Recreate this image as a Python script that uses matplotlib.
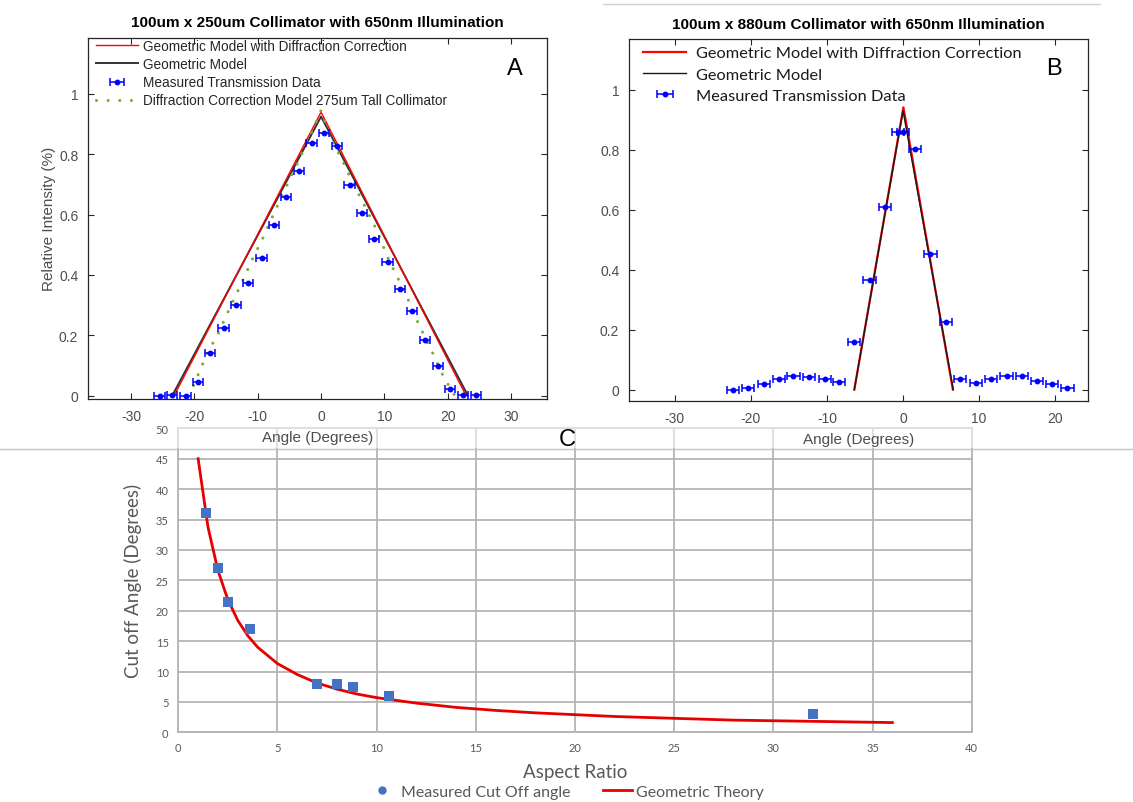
import matplotlib
matplotlib.use("Agg")
import matplotlib.pyplot as plt
from matplotlib.lines import Line2D
from matplotlib.patches import Rectangle

W, H = 1133, 803
plt.rcParams["axes.unicode_minus"] = False

# --- panel A: 100um x 250um collimator ---
a_meas_x = [-25.5, -23.5, -21.4, -19.4, -17.5, -15.4, -13.4, -11.5, -9.4, -7.4,
            -5.5, -3.5, -1.5, 0.5, 2.55, 4.5, 6.5, 8.4, 10.5, 12.4,
            14.4, 16.4, 18.5, 20.4, 22.4, 24.4]
a_meas_y = [0.0, 0.002, 0.0, 0.046, 0.141, 0.224, 0.299, 0.374, 0.457, 0.566,
            0.658, 0.744, 0.839, 0.870, 0.829, 0.699, 0.604, 0.518, 0.442, 0.352,
            0.279, 0.186, 0.099, 0.022, 0.002, 0.002]
a_meas_xerr = 0.8
a_diff_x = [-23.2, 0.0, 22.9]
a_diff_y = [0.0, 0.94, 0.0]
a_geom_x = [-23.5, 0.0, 23.2]
a_geom_y = [0.0, 0.925, 0.0]
a_tall_x = [-21.0, -20.5, -19.2, -17.9, -16.3, -14.9, -13.6, -12.1, -10.8, -9.2,
            -7.8, -6.3, -5.0, -3.5, -2.1, -0.7, 0.0, 0.9, 1.9, 3.4,
            4.7, 6.4, 8.7, 10.6, 13.5, 14.8, 16.2, 17.7, 19.0, 20.9, 21.3]
a_tall_y = [0.0, 0.015, 0.080, 0.144, 0.203, 0.268, 0.327, 0.393, 0.455, 0.521,
            0.588, 0.656, 0.715, 0.780, 0.844, 0.911, 0.945, 0.889, 0.839, 0.778,
            0.718, 0.649, 0.552, 0.455, 0.331, 0.265, 0.203, 0.138, 0.077, 0.006, 0.0]

# --- panel B: 100um x 880um collimator ---
b_meas_x = [-22.3, -20.4, -18.3, -16.3, -14.4, -12.3, -10.3, -8.4, -6.4, -4.4,
            -2.4, -0.7, 0.0, 1.6, 3.6, 5.6, 7.5, 9.6, 11.6, 13.6,
            15.6, 17.6, 19.6, 21.6]
b_meas_y = [0.0, 0.005, 0.018, 0.035, 0.046, 0.043, 0.035, 0.025, 0.160, 0.367,
            0.610, 0.858, 0.858, 0.802, 0.451, 0.224, 0.035, 0.022, 0.035, 0.046,
            0.046, 0.029, 0.018, 0.005]
b_meas_xerr = 0.8
b_diff_x = [-6.4, 0.05, 6.55]
b_diff_y = [0.0, 0.941, 0.0]
b_geom_x = [-6.4, 0.0, 6.6]
b_geom_y = [0.0, 0.93, 0.0]

# --- panel C: cut off angle vs aspect ratio ---
c_meas_ar = [1.4, 2.0, 2.5, 3.6, 7.0, 8.0, 8.8, 10.6, 32.0]
c_meas_angle = [36.0, 27.0, 21.5, 17.0, 7.9, 7.9, 7.5, 5.9, 3.0]
c_theory_ar = [1, 1.5, 2, 2.5, 3, 3.5, 4, 5, 6, 7, 8, 9, 10, 12, 14, 16, 18,
               20, 22, 24, 26, 28, 30, 32, 34, 36]
c_theory_angle = [45.0, 33.7, 26.6, 21.8, 18.4, 15.9, 14.0, 11.3, 9.5, 8.1, 7.1,
                  6.3, 5.7, 4.8, 4.1, 3.6, 3.2, 2.9, 2.6, 2.4, 2.2, 2.0, 1.9,
                  1.8, 1.7, 1.6]

MAT_FONT = "Liberation Sans"
XL_FONT = "Lato"
AXIS_GRAY = "#262626"
TICK_GRAY = "#4d4d4d"
GRID_GRAY = "#b4b4b4"
XL_TEXT = "#595959"


def px_rect(l, t, r, b):
    return [l / W, 1 - b / H, (r - l) / W, (b - t) / H]


def fx(x):
    return x / W


def fy(y):
    return 1 - y / H


def matlab_axes(ax):
    ax.set_facecolor("white")
    for s in ax.spines.values():
        s.set_color(AXIS_GRAY)
        s.set_linewidth(0.9)
    ax.tick_params(direction="in", length=4, width=0.8, colors=AXIS_GRAY,
                   labelcolor=TICK_GRAY, labelsize=10,
                   top=True, right=True, pad=7)
    for lab in ax.get_xticklabels() + ax.get_yticklabels():
        lab.set_family(MAT_FONT)


def draw_errorbars(ax, x, y, xerr):
    return ax.errorbar(x, y, xerr=xerr, fmt="o", color="#0000ff",
                       markersize=3.2, elinewidth=1.1, capsize=3,
                       capthick=1.1, zorder=4)


fig = plt.figure(figsize=(W / 100, H / 100), dpi=100)

# ---------- panel C (drawn first, sits underneath) ----------
axc = fig.add_axes(px_rect(178.3, 429.3, 971.7, 733.3))
axc.set_xlim(0, 40)
axc.set_ylim(0, 50)
axc.set_xticks(range(0, 41, 5))
axc.set_yticks(range(0, 51, 5))
axc.grid(True, color=GRID_GRAY, linewidth=1.3)
axc.set_axisbelow(True)
for s in axc.spines.values():
    s.set_color(GRID_GRAY)
    s.set_linewidth(1.3)
axc.tick_params(length=0, labelsize=8, labelcolor=XL_TEXT, pad=7)
for lab in axc.get_xticklabels() + axc.get_yticklabels():
    lab.set_family(XL_FONT)
axc.plot(c_theory_ar, c_theory_angle, color="#e60000", linewidth=2.0, zorder=3)
axc.plot(c_meas_ar, c_meas_angle, "s", color="#4472c4", markersize=6.5,
         markeredgewidth=0, zorder=4)
axc.set_xlabel("Aspect Ratio", family=XL_FONT, fontsize=13.5, color=XL_TEXT,
               labelpad=7)
axc.set_ylabel("Cut off Angle (Degrees)", family=XL_FONT, fontsize=13.5,
               color=XL_TEXT, labelpad=10)
c_handles = [
    Line2D([], [], marker="o", linestyle="none", color="#4472c4", markersize=5),
    Line2D([], [], color="#e60000", linewidth=2.0),
]
leg_c = fig.legend(c_handles, ["Measured Cut Off angle", "Geometric Theory"],
                   loc="center", bbox_to_anchor=(fx(566), fy(793)), ncol=2,
                   frameon=False, prop={"family": XL_FONT, "size": 11.5},
                   handlelength=1.8, handletextpad=0.3, columnspacing=2.0,
                   borderpad=0.1)
for t in leg_c.get_texts():
    t.set_color(XL_TEXT)

# lighter top strip of panel C, drawn inside axc so the upper panels stay on top
axc.add_patch(Rectangle((fx(176), fy(449)), fx(975) - fx(176),
                        fy(427) - fy(449), transform=fig.transFigure,
                        facecolor="white", alpha=0.55, edgecolor="none",
                        zorder=5, clip_on=False))
axc.add_line(Line2D([0, 1], [fy(449.5), fy(449.5)], transform=fig.transFigure,
                    color="#c4c4c4", linewidth=1.0, zorder=6, clip_on=False))
fig.text(fx(567), fy(440), "C", family=MAT_FONT, fontsize=17, ha="center",
         va="center", zorder=7)

# ---------- panel A ----------
axa = fig.add_axes(px_rect(88, 38.5, 546.5, 400))
h_diff = axa.plot(a_diff_x, a_diff_y, color="#ff0000", linewidth=1.0,
                  zorder=3)[0]
h_geom = axa.plot(a_geom_x, a_geom_y, color="#333333", linewidth=1.4,
                  zorder=2)[0]
h_meas = draw_errorbars(axa, a_meas_x, a_meas_y, a_meas_xerr)
h_tall = axa.plot(a_tall_x, a_tall_y, color="#77ac30", linewidth=2.2,
                  linestyle=(0, (0.01, 3.8)), dash_capstyle="round",
                  zorder=3)[0]
axa.set_xlim(-36.8, 35.6)
axa.set_ylim(-0.011, 1.187)
axa.set_xticks([-30, -20, -10, 0, 10, 20, 30])
axa.set_yticks([0, 0.2, 0.4, 0.6, 0.8, 1])
axa.set_yticklabels(["0", "0.2", "0.4", "0.6", "0.8", "1"])
matlab_axes(axa)
axa.set_title("100um x 250um Collimator with 650nm Illumination",
              family=MAT_FONT, fontsize=11, fontweight="bold", pad=8)
axa.set_ylabel("Relative Intensity (%)", family=MAT_FONT, fontsize=11,
               color=TICK_GRAY, labelpad=2)
axa.set_xlabel("Angle (Degrees)", family=MAT_FONT, fontsize=11,
               color=TICK_GRAY, labelpad=5)
leg_a = axa.legend([h_diff, h_geom, h_meas, h_tall],
                   ["Geometric Model with Diffraction Correction",
                    "Geometric Model",
                    "Measured Transmission Data",
                    "Diffraction Correction Model 275um Tall Collimator"],
                   loc="upper left", bbox_to_anchor=(0.0, 1.018),
                   frameon=False, prop={"family": MAT_FONT, "size": 9.8},
                   handlelength=3.1, handletextpad=0.35, labelspacing=0.3,
                   borderaxespad=0.2)
for t in leg_a.get_texts():
    t.set_color("#262626")
axa.text(0.93, 0.915, "A", transform=axa.transAxes, family=MAT_FONT,
         fontsize=17, ha="center", va="center")

# ---------- panel B ----------
axb = fig.add_axes(px_rect(629, 40, 1088, 402))
h_bdiff = axb.plot(b_diff_x, b_diff_y, color="#ff0000", linewidth=1.6,
                   zorder=3)[0]
h_bgeom = axb.plot(b_geom_x, b_geom_y, color="#1a1a1a", linewidth=1.0,
                   zorder=3)[0]
h_bmeas = draw_errorbars(axb, b_meas_x, b_meas_y, b_meas_xerr)
axb.set_xlim(-36, 24.3)
axb.set_ylim(-0.038, 1.169)
axb.set_xticks([-30, -20, -10, 0, 10, 20])
axb.set_yticks([0, 0.2, 0.4, 0.6, 0.8, 1])
axb.set_yticklabels(["0", "0.2", "0.4", "0.6", "0.8", "1"])
matlab_axes(axb)
axb.set_title("100um x 880um Collimator with 650nm Illumination",
              family=MAT_FONT, fontsize=11, fontweight="bold", pad=8)
axb.set_xlabel("Angle (Degrees)", family=MAT_FONT, fontsize=11,
               color=TICK_GRAY, labelpad=5)
leg_b = axb.legend([h_bdiff, h_bgeom, h_bmeas],
                   ["Geometric Model with Diffraction Correction",
                    "Geometric Model", "Measured Transmission Data"],
                   loc="upper left", bbox_to_anchor=(0.01, 1.008),
                   frameon=False, prop={"family": XL_FONT, "size": 11.8},
                   handlelength=2.6, handletextpad=0.6, labelspacing=0.42,
                   borderaxespad=0.2)
for t in leg_b.get_texts():
    t.set_color("#1a1a1a")
axb.text(0.925, 0.92, "B", transform=axb.transAxes, family=MAT_FONT,
         fontsize=17, ha="center", va="center")

# thin frame edge above panel B
fig.lines.append(Line2D([fx(603), fx(1100)], [fy(5), fy(5)],
                        transform=fig.transFigure, color="#d0d0d0",
                        linewidth=1.0))

fig.savefig("out.png", dpi=100, facecolor="white")
